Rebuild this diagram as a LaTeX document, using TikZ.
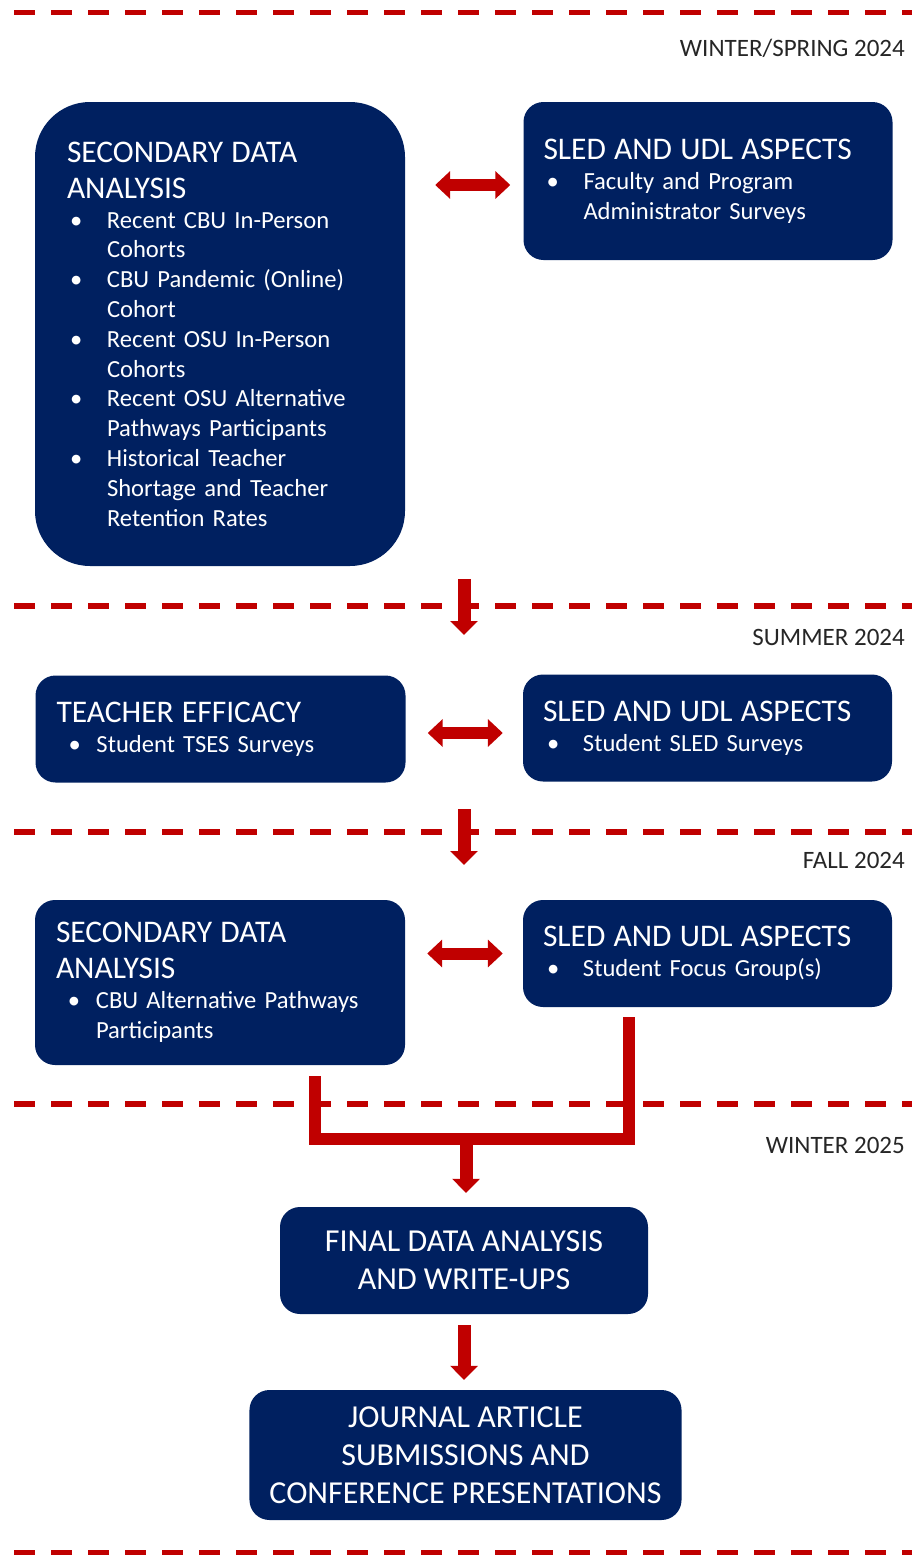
\documentclass[tikz,border=0pt]{standalone}
\usepackage{fontspec}
\setmainfont{Carlito}
\usetikzlibrary{arrows.meta,calc}
\definecolor{navy}{HTML}{002060}
\definecolor{planred}{HTML}{C00000}
\newcommand\hd[1]{{\fontsize{31.5}{36}\selectfont #1\par}}
\newcommand\bul[1][3pt]{\makebox[40pt][l]{\hspace*{#1}\textbullet}\ignorespaces}
\newcommand\ind{\hspace*{40pt}}

\begin{document}
\begin{tikzpicture}[x=1pt,y=-1pt,
  box/.style={fill=navy,text=white,rounded corners=20pt,align=left,inner xsep=20pt,inner ysep=0pt,
    font=\fontsize{24.6}{29.8}\selectfont},
  endbox/.style={box,align=center,font=\fontsize{32}{38}\selectfont},
  period/.style={anchor=base east,inner sep=0pt,text=black!85,font=\fontsize{25}{28}\selectfont},
  sep/.style={draw=planred,line width=5.5pt,dash pattern=on 21pt off 16pt,dash phase=23pt},
  flow/.style={draw=planred,line width=13pt,-{Triangle[width=27pt,length=14pt]}},
  pair/.style={draw=planred,line width=12pt,{Triangle[width=27pt,length=15pt]}-{Triangle[width=27pt,length=15pt]}},
  bar/.style={draw=planred,line width=12pt,miter limit=4}]

\useasboundingbox (0,0) rectangle (912,1556);

% season lines
\draw[sep] (0,12.5) -- (912,12.5);
\draw[sep] (0,606) -- (912,606);
\draw[sep] (0,832) -- (912,832);
\draw[sep] (0,1104) -- (912,1104);
\draw[sep] (0,1552.5) -- (912,1552.5);

\node[period] (p1) at (905,56) {WINTER/SPRING 2024};
\node[period] (p2) at (905,645) {SUMMER 2024};
\node[period] (p3) at (905,868) {FALL 2024};
\node[period] (p4) at (905,1153) {WINTER 2025};

%%%%%%%%%%%%%%%

\node[box,rounded corners=55pt,inner xsep=32pt,text width=306pt,minimum width=370pt,minimum height=464pt] (sda1) at (220,334)
  {\hd{SECONDARY DATA\\ANALYSIS}
   \bul Recent CBU In-Person\\ \ind Cohorts\\
   \bul CBU Pandemic (Online)\\ \ind Cohort\\
   \bul Recent OSU In-Person\\ \ind Cohorts\\
   \bul Recent OSU Alternative\\ \ind Pathways Participants\\
   \bul Historical Teacher\\ \ind Shortage and Teacher\\ \ind Retention Rates};

\node[box,text width=329pt,minimum width=369pt,minimum height=158pt] (sled1) at (708,181)
  {\hd{SLED AND UDL ASPECTS}
   \bul Faculty and Program\\ \ind Administrator Surveys};

\draw[pair,shorten <=30pt,shorten >=13pt] ($(sled1.west -| sda1.east)+(0,4)$) -- ($(sled1.west)+(0,4)$);

\coordinate (d1a) at (464,579);
\coordinate (d1b) at (464,635);
\draw[flow] (d1a) -- (d1b);

%%%%%%%%%%%%%%%

\node[box,inner xsep=21pt,text width=328pt,minimum width=370pt,minimum height=107pt] (te) at (220.5,729)
  {\hd{TEACHER EFFICACY}
   \bul[12pt] Student TSES Surveys};

\node[box,text width=329pt,minimum width=369pt,minimum height=107pt] (sled2) at (707.5,728)
  {\hd{SLED AND UDL ASPECTS}
   \bul[4pt] Student SLED Surveys};

\draw[pair,shorten <=22pt,shorten >=20pt] ($(sled2.west -| te.east)+(0,5)$) -- ($(sled2.west)+(0,5)$);

\coordinate (d2a) at (464,809);
\coordinate (d2b) at (464,865);
\draw[flow] (d2a) -- (d2b);

%%%%%%%%%%%%%%%

\node[box,inner xsep=21pt,text width=328pt,minimum width=370pt,minimum height=165pt] (sda2) at (220,982.5)
  {\hd{SECONDARY DATA\\ANALYSIS}
   \bul[12pt] CBU Alternative Pathways\\ \ind Participants};

\node[box,text width=329pt,minimum width=369pt,minimum height=107pt] (sled3) at (707.5,953.5)
  {\hd{SLED AND UDL ASPECTS}
   \bul[4pt] Student Focus Group(s)};

\draw[pair,shorten <=22pt,shorten >=20pt] (sled3.west -| sda2.east) -- (sled3.west);

%%%%%%%%%%%%%%%

\node[endbox,minimum width=368pt,minimum height=107pt] (fin) at (464,1260.5)
  {FINAL DATA ANALYSIS\\AND WRITE-UPS};

\node[endbox,minimum width=429pt,minimum height=130pt] (jour) at (465.5,1455)
  {JOURNAL ARTICLE\\SUBMISSIONS AND\\CONFERENCE PRESENTATIONS};

\coordinate (m1) at (315,1076);
\coordinate (m2) at (629,1017);
\coordinate (join) at (466,1139);
\draw[bar] (m1) |- (join) -| (m2);
\draw[flow,shorten >=14pt] (join) -- (join |- fin.north);

\draw[flow,shorten <=11pt,shorten >=10pt] (fin.south) -- (fin.south |- jour.north);

\end{tikzpicture}
\end{document}
